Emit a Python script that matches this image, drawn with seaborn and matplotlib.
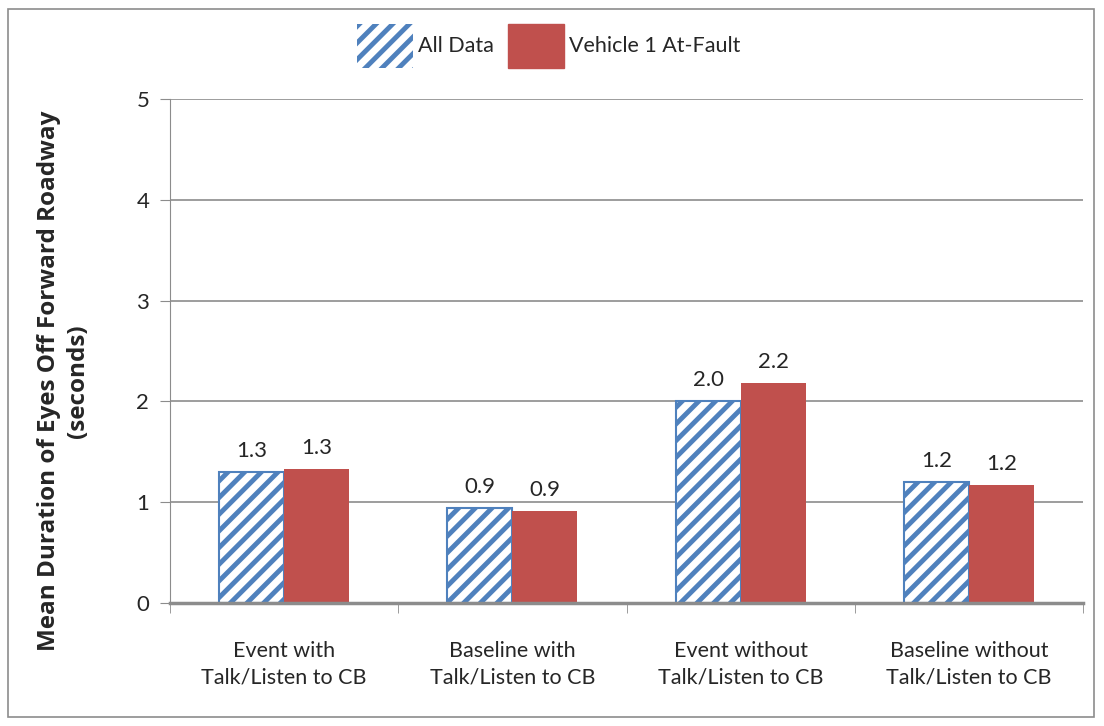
import seaborn as sns
import pandas as pd
import matplotlib.pyplot as plt
from matplotlib.patches import Rectangle, Patch

categories = ["Event with\nTalk/Listen to CB", "Baseline with\nTalk/Listen to CB",
              "Event without\nTalk/Listen to CB", "Baseline without\nTalk/Listen to CB"]
series = ["All Data", "Vehicle 1 At-Fault"]
all_data = [1.30, 0.94, 2.00, 1.20]
at_fault = [1.33, 0.91, 2.18, 1.17]

df = pd.DataFrame({
    "category": categories * 2,
    "series": [series[0]] * 4 + [series[1]] * 4,
    "value": all_data + at_fault,
})

sns.set_style("white")
plt.rcParams["font.family"] = ["Lato", "DejaVu Sans"]
plt.rcParams["hatch.linewidth"] = 3.5
plt.rcParams["hatch.color"] = "#4F81BD"

fig = plt.figure(figsize=(11.04, 7.26), dpi=100)
ax = fig.add_axes([0.154, 0.1694, 0.827, 0.6942])

blue = "#4F81BD"
red = "#C0504D"
sns.barplot(data=df, x="category", y="value", hue="series",
            palette=["white", red], width=0.57, ax=ax, legend=False,
            saturation=1)

for bar in ax.containers[0]:
    bar.set_hatch("//")
    bar.set_edgecolor(blue)
    bar.set_linewidth(1.5)
for bar in ax.containers[1]:
    bar.set_edgecolor(red)
    bar.set_linewidth(0)

for cont in ax.containers:
    ax.bar_label(cont, fmt="%.1f", padding=8, fontsize=16)

ax.set_ylim(0, 5)
ax.set_xlim(-0.5, 3.5)
ax.set_yticks([0, 1, 2, 3, 4, 5])
ax.yaxis.grid(True, color="#8C8C8C", linewidth=1.2)
ax.set_axisbelow(True)
for s in ["top", "right"]:
    ax.spines[s].set_visible(False)
ax.spines["left"].set_color("#8C8C8C")
ax.spines["bottom"].set_color("#8C8C8C")
ax.spines["bottom"].set_linewidth(2.5)
ax.tick_params(axis="y", length=7, color="#8C8C8C", direction="out",
               labelsize=16, left=True, pad=8)
ax.tick_params(axis="x", length=0, labelsize=15.5, pad=27)
for lbl in ax.get_xticklabels():
    lbl.set_linespacing(1.45)
ax.set_xticks([-0.5, 0.5, 1.5, 2.5, 3.5], minor=True)
ax.tick_params(axis="x", which="minor", length=7, color="#8C8C8C", bottom=True)
ax.set_xlabel("")
ax.set_ylabel("Mean Duration of Eyes Off Forward Roadway\n(seconds)",
              fontsize=17.5, fontweight="bold", labelpad=33, linespacing=1.3,
              family=["Open Sans", "DejaVu Sans"])
ax.yaxis.label.set_y(0.44)

handles = [Patch(facecolor="white", edgecolor=blue, linewidth=0, hatch="//", label=series[0]),
           Patch(facecolor=red, edgecolor=red, label=series[1])]
fig.legend(handles=handles, loc="center", bbox_to_anchor=(0.497, 0.937),
           ncol=2, frameon=False, fontsize=15.5, handlelength=2.6,
           handleheight=2.8, handletextpad=0.2, columnspacing=0.7)

fig.add_artist(Rectangle((0.007, 0.012), 0.984, 0.976, transform=fig.transFigure,
                         fill=False, edgecolor="#8C8C8C", linewidth=1.2))

fig.savefig("out.png", dpi=100)
